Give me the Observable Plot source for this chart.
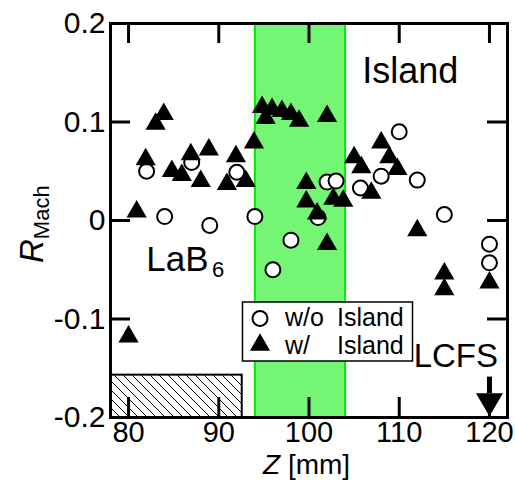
<!DOCTYPE html>
<html><head><meta charset="utf-8">
<script src="https://cdn.jsdelivr.net/npm/d3@7"></script>
<script src="https://cdn.jsdelivr.net/npm/@observablehq/plot@0.6"></script>
<style>
body{margin:0;background:#fff;}
#chart{position:relative;width:515px;height:480px;}
</style>
</head><body><div id="chart"></div>
<script>
// w/o Island (open circles)
const woZ = [82, 84, 87, 89, 92, 94, 96, 98, 101, 102, 103, 105.7, 108, 110, 112, 115, 120, 120];
const woR = [0.050, 0.004, 0.059, -0.005, 0.049, 0.004, -0.050, -0.020, 0.003, 0.039, 0.040, 0.033, 0.045, 0.090, 0.041, 0.006, -0.024, -0.043];
// w/ Island (filled triangles)
const wZ = [80, 80.9, 81.9, 83, 83.9, 84.8, 85.9, 86.9, 88, 88.9, 90.9, 91.9, 93, 93.9, 94.8, 95.2, 95.9, 97, 98, 98.9, 99.7, 99.7, 100.9, 102, 102, 102.7, 103.8, 105, 105.8, 106.9, 108, 108.9, 109.8, 112, 115, 115, 120];
const wR = [-0.118, 0.009, 0.062, 0.098, 0.108, 0.050, 0.046, 0.067, 0.040, 0.072, 0.037, 0.065, 0.040, 0.079, 0.115, 0.104, 0.113, 0.111, 0.108, 0.101, 0.038, 0.019, 0.007, 0.106, -0.024, 0.022, 0.020, 0.064, 0.054, 0.028, 0.079, 0.064, 0.052, -0.010, -0.054, -0.070, -0.063];

const xTicks = [80, 90, 100, 110, 120];
const yTicks = [-0.2, -0.1, 0, 0.1, 0.2];
const yTickLabels = ["-0.2", "-0.1", "0", "0.1", "0.2"];
const xDomain = [78, 122];
const yDomain = [-0.2, 0.2];

const islandBand = [94, 104];          // Z range of island (green band)
const lab6Region = [78, 92.6, -0.2, -0.157]; // hatched LaB6 region
const lcfsZ = 120;
const lcfsArrowR = [-0.159, -0.176, -0.187];   // shaft top, shaft bottom, head centre

const annotations = [
  {text: "Island", z: 105.9, r: 0.151, size: 36},
  {text: "LaB", z: 81.97, r: -0.040, size: 35},
  {text: "6", z: 89.25, r: -0.050, size: 22},
  {text: "LCFS", z: 111.6, r: -0.138, size: 33}
];

const W = 515, H = 480, mL = 110, mR = 8, mT = 23, mB = 63;
const innerW = W - mL - mR, innerH = H - mT - mB;
const tickLen = 20;
const font = "'Liberation Sans', Arial, Helvetica, sans-serif";

const circles = woZ.map((z, i) => ({z, r: woR[i]}));
const triangles = wZ.map((z, i) => ({z, r: wR[i]}));

const downTriangle = {
  draw(context, size) {
    const s = Math.sqrt(size / Math.PI);
    context.moveTo(-s, -s * 0.85);
    context.lineTo(s, -s * 0.85);
    context.lineTo(0, s * 0.85);
    context.closePath();
  }
};

const plot = Plot.plot({
  width: W, height: H,
  marginLeft: mL, marginRight: mR, marginTop: mT, marginBottom: mB,
  style: {fontFamily: font, background: "white", color: "black"},
  x: {domain: xDomain},
  y: {domain: yDomain},
  marks: [
    Plot.rect([islandBand], {x1: d => d[0], x2: d => d[1], fill: "#74f574"}),
    Plot.ruleX(islandBand, {x: d => d, stroke: "#00e800", strokeWidth: 2}),
    Plot.rect([lab6Region], {x1: d => d[0], x2: d => d[1], y1: d => d[2], y2: d => d[3], fill: "url(#hatch)", stroke: "black", strokeWidth: 2}),
    Plot.axisX(xTicks, {tickSize: 0, tickPadding: 4, fontSize: 29, label: null}),
    Plot.axisY(yTicks, {tickSize: 0, tickPadding: 5, fontSize: 30, label: null, tickFormat: d => yTickLabels[yTicks.indexOf(d)]}),
    Plot.tickX(xTicks, {x: d => d, insetTop: innerH - tickLen, stroke: "black", strokeWidth: 3}),
    Plot.tickX(xTicks, {x: d => d, insetBottom: innerH - tickLen, stroke: "black", strokeWidth: 3}),
    Plot.tickY(yTicks, {y: d => d, insetRight: innerW - tickLen, stroke: "black", strokeWidth: 3}),
    Plot.tickY(yTicks, {y: d => d, insetLeft: innerW - tickLen, stroke: "black", strokeWidth: 3}),
    Plot.frame({stroke: "black", strokeWidth: 3}),
    Plot.dot(circles, {x: "z", y: "r", r: 7.5, fill: "white", stroke: "black", strokeWidth: 2}),
    Plot.dot(triangles, {x: "z", y: "r", r: 7.5, symbol: "triangle", fill: "black", stroke: "none"}),
    Plot.text(annotations, {x: "z", y: "r", text: "text", fontSize: d => d.size, textAnchor: "start", lineAnchor: "middle", fill: "black"}),
    Plot.ruleX([lcfsZ], {x: d => d, y1: lcfsArrowR[0], y2: lcfsArrowR[1], stroke: "black", strokeWidth: 5}),
    Plot.dot([lcfsZ], {x: d => d, y: lcfsArrowR[2], r: 13.5, symbol: downTriangle, fill: "black", stroke: "none"})
  ]
});

document.getElementById("chart").appendChild(plot);
const svg = d3.select(plot);
svg.selectAll("text").style("font-family", font);

const defs = svg.insert("defs", ":first-child");
const pat = defs.append("pattern").attr("id", "hatch").attr("patternUnits", "userSpaceOnUse")
  .attr("width", 9).attr("height", 9);
pat.append("rect").attr("width", 9).attr("height", 9).attr("fill", "white");
pat.append("path").attr("d", "M0,0L9,9M-2,7L2,11M7,-2L11,2").attr("stroke", "black").attr("stroke-width", 1);

// Legend
const lg = svg.append("g").attr("font-family", font).attr("font-size", 25).attr("fill", "black").attr("text-anchor", "start");
lg.append("rect").attr("x", 242.5).attr("y", 302).attr("width", 170).attr("height", 59)
  .attr("fill", "white").attr("stroke", "black").attr("stroke-width", 1.5);
lg.append("circle").attr("cx", 260).attr("cy", 318.5).attr("r", 7.5).attr("fill", "white").attr("stroke", "black").attr("stroke-width", 2);
lg.append("path").attr("transform", "translate(260,345)").attr("d", d3.symbol(d3.symbolTriangle, Math.PI * 7.5 * 7.5)()).attr("fill", "black");
const t1 = lg.append("text").attr("y", 326).attr("text-anchor", "start");
t1.append("tspan").attr("x", 285).text("w/o");
t1.append("tspan").attr("x", 337).text("Island");
const t2 = lg.append("text").attr("y", 354).attr("text-anchor", "start");
t2.append("tspan").attr("x", 285).text("w/");
t2.append("tspan").attr("x", 337).text("Island");

// Y label R_Mach
const yl = svg.append("text").attr("transform", "translate(43,263) rotate(-90)")
  .attr("text-anchor", "start")
  .attr("font-family", font).attr("font-size", 33).attr("fill", "black");
yl.append("tspan").attr("font-style", "italic").text("R");
yl.append("tspan").attr("font-size", 22).attr("dy", 6).text("Mach");

// X label Z [mm]
const xl = svg.append("text").attr("x", 263).attr("y", 474).attr("text-anchor", "start")
  .attr("font-family", font).attr("font-size", 28).attr("fill", "black");
xl.append("tspan").attr("font-style", "italic").text("Z");
xl.append("tspan").text(" [mm]");
</script>
</body></html>
